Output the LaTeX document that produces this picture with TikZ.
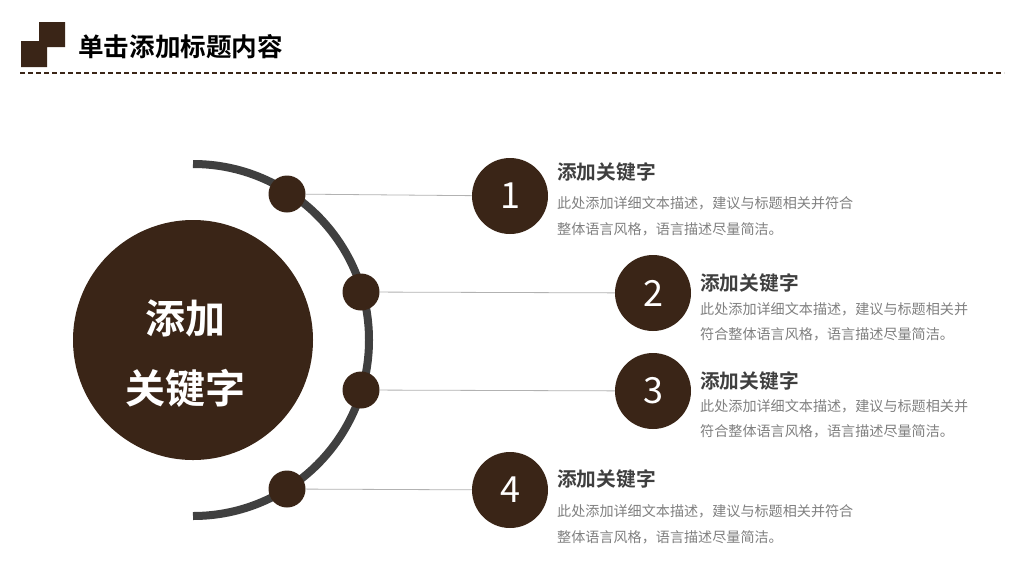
\documentclass[tikz,border=0pt]{standalone}
\usepackage{fontspec}
\newfontfamily\cjk{Noto Sans CJK SC}
\newfontfamily\cjkb{Noto Sans CJK SC Bold}
\definecolor{brn}{HTML}{3A2517}
\definecolor{arcg}{HTML}{404040}
\definecolor{txt}{HTML}{3F3F3F}
\definecolor{desc}{HTML}{808080}
\begin{document}
\begin{tikzpicture}[x=1pt,y=-1pt,
  dot/.style={circle,fill=brn,minimum size=37pt,inner sep=0pt},
  num/.style={circle,fill=brn,minimum size=76pt,inner sep=0pt,text=white,font=\cjk\fontsize{36}{36}\selectfont},
  ttl/.style={anchor=west,text=txt,font=\cjkb\fontsize{19.7}{19.7}\selectfont,inner sep=0pt},
  dsc/.style={anchor=west,text=desc,font=\cjk\fontsize{14.1}{14.1}\selectfont,inner sep=0pt},
  lnk/.style={draw=black!30,line width=0.8pt}]
\useasboundingbox (0,0) rectangle (1024,576);
\fill[white] (0,0) rectangle (1024,576);
% logo
\fill[brn] (21,67) -- (21,41) -- (39,41) -- (39,22) -- (65,22) -- (65,47) -- (47,47) -- (47,67) -- cycle;
\node[anchor=west,inner sep=0pt,text=black,font=\cjkb\fontsize{25.6}{25.6}\selectfont] (title) at (78,47) {单击添加标题内容};
\draw[brn,line width=1.5pt,dash pattern=on 5pt off 3pt] (20,73) -- (1004,73);
% arc
\draw[arcg,line width=8pt] (193,164) arc[start angle=-90,end angle=90,radius=176];
% big circle
\node[circle,fill=brn,minimum size=240pt,inner sep=0pt] (big) at (193,340) {};
\node[text=white,font=\cjkb\fontsize{40}{40}\selectfont] (bt1) at (185,318) {添加};
\node[text=white,font=\cjkb\fontsize{40}{40}\selectfont] (bt2) at (185,388) {关键字};
% dots & numbers
\node[dot] (d1) at (287,194) {};
\node[dot] (d2) at (361,292) {};
\node[dot] (d3) at (361,390) {};
\node[dot] (d4) at (287,489) {};
\node[num] (n1) at (510,196) {1};
\node[num] (n2) at (653,293) {2};
\node[num] (n3) at (653,391) {3};
\node[num] (n4) at (510,490) {4};
\draw[lnk] (d1) -- (n1);
\draw[lnk] (d2) -- (n2);
\draw[lnk] (d3) -- (n3);
\draw[lnk] (d4) -- (n4);
% texts
\node[ttl] (t1) at (557,172) {添加关键字};
\node[dsc] (a1) at (557,203) {此处添加详细文本描述，建议与标题相关并符合};
\node[dsc] (b1) at (557,229) {整体语言风格，语言描述尽量简洁。};
\node[ttl] (t2) at (700,283) {添加关键字};
\node[dsc] (a2) at (700,309) {此处添加详细文本描述，建议与标题相关并};
\node[dsc] (b2) at (700,334) {符合整体语言风格，语言描述尽量简洁。};
\node[ttl] (t3) at (700,381) {添加关键字};
\node[dsc] (a3) at (700,406) {此处添加详细文本描述，建议与标题相关并};
\node[dsc] (b3) at (700,431) {符合整体语言风格，语言描述尽量简洁。};
\node[ttl] (t4) at (557,479) {添加关键字};
\node[dsc] (a4) at (557,511) {此处添加详细文本描述，建议与标题相关并符合};
\node[dsc] (b4) at (557,537) {整体语言风格，语言描述尽量简洁。};
\end{tikzpicture}
\end{document}
